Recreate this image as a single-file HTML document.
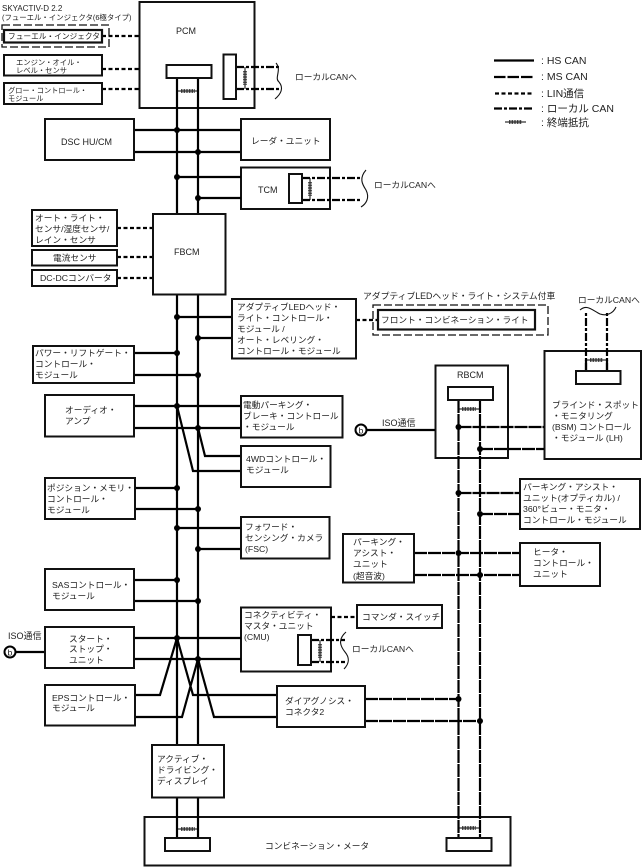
<!DOCTYPE html>
<html><head><meta charset="utf-8"><style>
html,body{margin:0;padding:0;background:#fff}
svg{display:block}
text{font-family:"Liberation Sans","Noto Sans CJK JP",sans-serif;font-size:8.700px;fill:#222}
.s{font-size:8.700px}
.g{font-size:10.500px}
.b{fill:#fff;stroke:#111;stroke-width:2}
.h{fill:none;stroke:#000;stroke-width:2.200}
.m{fill:none;stroke:#000;stroke-width:2.200;stroke-dasharray:13 1}
.m2{fill:none;stroke:#000;stroke-width:2.200;stroke-dasharray:11.500 2}
.l{fill:none;stroke:#000;stroke-width:2.200;stroke-dasharray:4 2.500}
.c{fill:none;stroke:#000;stroke-width:2.200;stroke-dasharray:8 2 3 2}
.d{fill:none;stroke:#111;stroke-width:1.300;stroke-dasharray:8 3}
.w{fill:none;stroke:#111;stroke-width:1.100}
.r{fill:none;stroke:#222;stroke-width:4;stroke-dasharray:.8 .8}
.t{fill:none;stroke:#000;stroke-width:1}
</style></head><body>
<svg width="643" height="867" viewBox="0 0 643 867" xmlns="http://www.w3.org/2000/svg">
<!-- containers -->
<rect class="b" x="139.500" y="2" width="115" height="106"/>
<rect class="b" x="144.500" y="817" width="366" height="48.500"/>
<rect class="b" x="435.500" y="365.500" width="72.500" height="92.500"/>
<rect class="b" x="544.500" y="351" width="96.500" height="108"/>
<rect class="b" x="241" y="167.500" width="89" height="41.500"/>
<rect class="b" x="241" y="607.500" width="90" height="64"/>
<!-- dashed enclosures -->
<rect class="d" x="2" y="25" width="107" height="22"/>
<rect class="d" x="373" y="305" width="175" height="30"/>
<!-- HS CAN -->
<path class="h" d="M177 78V838M198 78V838"/>
<path class="h" d="M134 130H241M134 152H241M177 177H241M198 198H241M177 317H232M198 338H232M134 353H177M134 375H198M134 406H241M134 428H241M198 428L205 456H241M177 406L193 471H241M135 488H177M135 509H198M177 528H241M198 549H241M134 580H177M134 601H198M134 638H241M134 659H241M135 695H160L177 638L193 695H277M135 717H182L198 659L214 717H277M16 652H45M367 430H435"/>
<!-- MS CAN -->
<path class="m" d="M458.500 400V838M480 400V838"/>
<path class="m" d="M458.500 427H544M480 449H544M458.500 493H520M480 514H520M414 553H520M414 575H520M365 699H458.500M365 721H480"/>
<!-- LIN -->
<path class="l" d="M102 36H139M102 69H139M102 89H139M117 228H153M117 257H153M117 278H153M356 320H378M331 617H357"/>
<!-- Local CAN -->
<path class="c" d="M236 67H279M236 89H279M302 178H361M302 200H361M311 640H345M311 662H345M586 371V312M607 371V312"/>
<!-- connectors bridging top -->
<path class="h" d="M586 371V360M607 371V360"/>
<!-- terminators -->
<path class="t" d="M177 91H198"/><path class="r" d="M181 91H195"/>
<path class="t" d="M177 829H198"/><path class="r" d="M181 829H195"/>
<path class="t" d="M458 409H480"/><path class="r" d="M462 409H476"/>
<path class="t" d="M458 828H480"/><path class="r" d="M462 828H476"/>
<path class="t" d="M586 360H607"/><path class="r" d="M590 360H603"/>
<path class="t" d="M245 67V89"/><path class="r" d="M245 71V85"/>
<path class="t" d="M310 178V200"/><path class="r" d="M310 182V196"/>
<path class="t" d="M320 640V662"/><path class="r" d="M320 644V658"/>
<!-- wavy braces -->
<path class="w" d="M276 63C282 70 274 78 279 82C284 88 281 94 275 99"/>
<path class="w" d="M366 170C359 178 362 184 366 190C370 198 366 204 361 207"/>
<path class="w" d="M346 632C337 640 341 647 345 652C350 658 349 664 344 669"/>
<path class="w" d="M580 310C587 304 592 310 600 314C606 316 613 314 616 307"/>
<!-- dots -->
<g fill="#000">
<circle cx="177" cy="130" r="3"/><circle cx="198" cy="152" r="3"/><circle cx="177" cy="177" r="3"/><circle cx="198" cy="198" r="3"/>
<circle cx="177" cy="317" r="3"/><circle cx="198" cy="338" r="3"/><circle cx="177" cy="353" r="3"/><circle cx="198" cy="375" r="3"/>
<circle cx="177" cy="406" r="3"/><circle cx="198" cy="428" r="3"/><circle cx="177" cy="488" r="3"/><circle cx="198" cy="509" r="3"/>
<circle cx="177" cy="528" r="3"/><circle cx="198" cy="549" r="3"/><circle cx="177" cy="580" r="3"/><circle cx="198" cy="601" r="3"/>
<circle cx="177" cy="638" r="3"/><circle cx="198" cy="659" r="3"/>
<circle cx="458.500" cy="427" r="3"/><circle cx="480" cy="449" r="3"/><circle cx="458.500" cy="493" r="3"/><circle cx="480" cy="514" r="3"/>
<circle cx="458.500" cy="553" r="3"/><circle cx="480" cy="575" r="3"/><circle cx="458.500" cy="699" r="3"/><circle cx="480" cy="721" r="3"/>
</g>
<!-- boxes -->
<rect class="b" x="166.500" y="65" width="45" height="13"/>
<rect class="b" x="223.500" y="54.500" width="12.500" height="44.500"/>
<rect class="b" x="4" y="30" width="98" height="12.500" style="stroke-width:2.200"/>
<rect class="b" x="4" y="55" width="98" height="20.500"/>
<rect class="b" x="4" y="83" width="98" height="21"/>
<rect class="b" x="45" y="119" width="89" height="41"/>
<rect class="b" x="241" y="119" width="89" height="41"/>
<rect class="b" x="289" y="174" width="13" height="29"/>
<rect class="b" x="153" y="214" width="72.500" height="80.500"/>
<rect class="b" x="32" y="210" width="85" height="36"/>
<rect class="b" x="32" y="250" width="85" height="15.500"/>
<rect class="b" x="32" y="270" width="85" height="16"/>
<rect class="b" x="232" y="299" width="124" height="59.500"/>
<rect class="b" x="33" y="346" width="101" height="37"/>
<rect class="b" x="45" y="395" width="89" height="41.500"/>
<rect class="b" x="241" y="396" width="101.500" height="41.500"/>
<rect class="b" x="241" y="446" width="89.500" height="41"/>
<rect class="b" x="45" y="478" width="90" height="41"/>
<rect class="b" x="241" y="517" width="88.500" height="41.500"/>
<rect class="b" x="45" y="569" width="89" height="41"/>
<rect class="b" x="298" y="635" width="13" height="30"/>
<rect class="b" x="45" y="627" width="89" height="41"/>
<rect class="b" x="45" y="685" width="90" height="40.500"/>
<rect class="b" x="277" y="686" width="88" height="41"/>
<rect class="b" x="152" y="745" width="72" height="52.500"/>
<rect class="b" x="165" y="838" width="45" height="13"/>
<rect class="b" x="446.500" y="838" width="45" height="13"/>
<rect class="b" x="448" y="387" width="45" height="13"/>
<rect class="b" x="576" y="371" width="44.500" height="13"/>
<rect class="b" x="378" y="310" width="157" height="19.500" style="stroke-width:2.200"/>
<rect class="b" x="520" y="479" width="120" height="50"/>
<rect class="b" x="343" y="534" width="71" height="48.500"/>
<rect class="b" x="520" y="543" width="80" height="43"/>
<rect class="b" x="357" y="605" width="85" height="23"/>
<!-- b circles -->
<circle cx="10" cy="652" r="5.500" fill="#fff" stroke="#000" stroke-width="2"/>
<circle cx="361" cy="430" r="5.500" fill="#fff" stroke="#000" stroke-width="2"/>
<text x="7.500" y="655.500">b</text>
<text x="358.500" y="433.500">b</text>
<!-- labels -->
<text x="2" y="11" style="font-size:8px">SKYACTIV-D 2.2</text>
<text x="2" y="20" style="font-size:7.400px">(フューエル・インジェクタ(6極タイプ)</text>
<text x="8" y="39" style="font-size:7.700px">フューエル・インジェクタ</text>
<text x="16" y="65" style="font-size:7.300px">エンジン・オイル・</text>
<text x="16" y="73" style="font-size:7.300px">レベル・センサ</text>
<text x="8" y="93" style="font-size:7.200px">グロー・コントロール・</text>
<text x="8" y="101" style="font-size:7.200px">モジュール</text>
<text x="176" y="34" style="font-size:9px">PCM</text>
<text x="295" y="80" class="s">ローカルCANへ</text>
<text x="61" y="145" style="font-size:9px">DSC HU/CM</text>
<text x="251" y="144">レーダ・ユニット</text>
<text x="258" y="193" style="font-size:9px">TCM</text>
<text x="374" y="188" class="s">ローカルCANへ</text>
<text x="35" y="221">オート・ライト・</text>
<text x="35" y="232">センサ/湿度センサ/</text>
<text x="35" y="243">レイン・センサ</text>
<text x="53" y="261">電流センサ</text>
<text x="40" y="281">DC-DCコンバータ</text>
<text x="174" y="255" style="font-size:9px">FBCM</text>
<text x="237" y="310">アダプティブLEDヘッド・</text>
<text x="237" y="321">ライト・コントロール・</text>
<text x="237" y="332">モジュール /</text>
<text x="237" y="343">オート・レベリング・</text>
<text x="237" y="354">コントロール・モジュール</text>
<text x="363" y="299" style="font-size:8.800px">アダプティブLEDヘッド・ライト・システム付車</text>
<text x="381" y="323">フロント・コンビネーション・ライト</text>
<text x="35" y="356">パワー・リフトゲート・</text>
<text x="35" y="367">コントロール・</text>
<text x="35" y="378">モジュール</text>
<text x="65" y="413">オーディオ・</text>
<text x="65" y="424">アンプ</text>
<text x="243" y="408">電動パーキング・</text>
<text x="243" y="419">ブレーキ・コントロール</text>
<text x="243" y="430">・モジュール</text>
<text x="246" y="462">4WDコントロール・</text>
<text x="246" y="473">モジュール</text>
<text x="47" y="491">ポジション・メモリ・</text>
<text x="47" y="502">コントロール・</text>
<text x="47" y="513">モジュール</text>
<text x="245" y="530">フォワード・</text>
<text x="245" y="541">センシング・カメラ</text>
<text x="245" y="552">(FSC)</text>
<text x="52" y="588">SASコントロール・</text>
<text x="52" y="599">モジュール</text>
<text x="244" y="618">コネクティビティ・</text>
<text x="244" y="629">マスタ・ユニット</text>
<text x="244" y="640">(CMU)</text>
<text x="8" y="639" style="font-size:9px">ISO通信</text>
<text x="69" y="642">スタート・</text>
<text x="69" y="652">ストップ・</text>
<text x="69" y="663">ユニット</text>
<text x="52" y="701">EPSコントロール・</text>
<text x="52" y="711">モジュール</text>
<text x="285" y="704">ダイアグノシス・</text>
<text x="285" y="715">コネクタ2</text>
<text x="157" y="762">アクティブ・</text>
<text x="157" y="773">ドライビング・</text>
<text x="157" y="784">ディスプレイ</text>
<text x="265" y="849">コンビネーション・メータ</text>
<text x="362" y="620">コマンダ・スイッチ</text>
<text x="352" y="652" class="s">ローカルCANへ</text>
<text x="457" y="378" style="font-size:9px">RBCM</text>
<text x="382" y="426" style="font-size:9px">ISO通信</text>
<text x="552" y="408">ブラインド・スポット</text>
<text x="552" y="419">・モニタリング</text>
<text x="552" y="430">(BSM) コントロール</text>
<text x="552" y="441">・モジュール (LH)</text>
<text x="578" y="303" class="s">ローカルCANへ</text>
<text x="523" y="490">パーキング・アシスト・</text>
<text x="523" y="501">ユニット(オプティカル) /</text>
<text x="523" y="512">360°ビュー・モニタ・</text>
<text x="523" y="523">コントロール・モジュール</text>
<text x="353" y="545">パーキング・</text>
<text x="353" y="556">アシスト・</text>
<text x="353" y="567">ユニット</text>
<text x="353" y="579">(超音波)</text>
<text x="533" y="555">ヒータ・</text>
<text x="533" y="566">コントロール・</text>
<text x="533" y="577">ユニット</text>
<!-- legend -->
<path class="h" d="M494 60.500H534"/>
<path class="m2" d="M494 77H534"/>
<path class="l" d="M495 93.500H534"/>
<path class="c" d="M494 108.500H534"/>
<path class="t" d="M505 122H526"/><path class="r" d="M509 122H522"/>
<text x="541" y="64" class="g">: HS CAN</text>
<text x="541" y="80" class="g">: MS CAN</text>
<text x="541" y="97" class="g">: LIN通信</text>
<text x="541" y="112" class="g">: ローカル CAN</text>
<text x="541" y="126" class="g">: 終端抵抗</text>
</svg>
</body></html>
